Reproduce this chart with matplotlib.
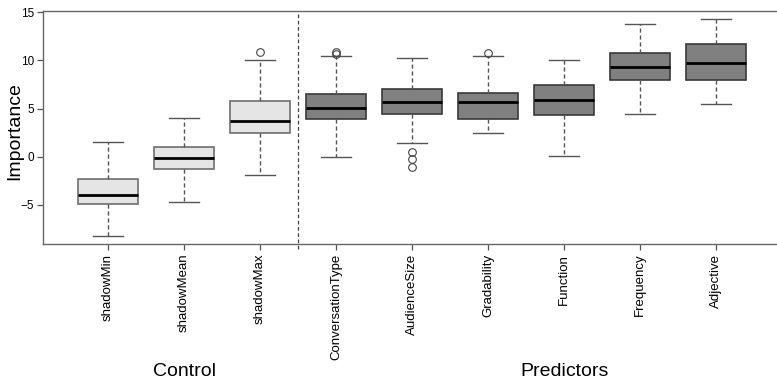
import matplotlib; matplotlib.use('Agg')
import matplotlib.pyplot as plt

# ── Data ──────────────────────────────────────────────────────────────────────
names    = ['shadowMin', 'shadowMean', 'shadowMax', 'ConversationType', 'AudienceSize',
            'Gradability', 'Function', 'Frequency', 'Adjective']
whislo   = [-8.28, -4.66, -1.93, -0.07, 1.45, 2.41, 0.03, 4.45, 5.51]
q1       = [-4.87, -1.31, 2.41, 3.89, 4.48, 3.93, 4.34, 8.00, 8.00]
medians  = [-3.93, -0.10, 3.72, 5.03, 5.69, 5.69, 5.90, 9.27, 9.72]
q3       = [-2.30, 0.96, 5.75, 6.52, 7.03, 6.62, 7.48, 10.76, 11.72]
whishi   = [1.55, 4.00, 10.03, 10.45, 10.20, 10.45, 10.03, 13.82, 14.28]
outliers = [[], [], [10.90], [10.82, 10.65], [0.48, -0.28, -1.10], [10.79], [], [], []]
groups   = ['Control'] * 3 + ['Predictors'] * 6

plt.rcParams['font.family'] = ['Liberation Sans', 'DejaVu Sans']

W, H = 777, 379
fig = plt.figure(figsize=(W / 100, H / 100), dpi=100, facecolor='white')
ax = fig.add_axes([42.5 / W, 1 - 244 / H, (W - 42.5) / W, (244 - 11) / H])

stats = [dict(label=n, whislo=lo, q1=a, med=m, q3=b, whishi=hi, fliers=f)
         for n, lo, a, m, b, hi, f in zip(names, whislo, q1, medians, q3, whishi, outliers)]
pos = list(range(1, len(names) + 1))

for g, face, edge in [('Control', '#e5e5e5', '#6e6e6e'), ('Predictors', '#808080', '#3a3a3a')]:
    idx = [i for i, gg in enumerate(groups) if gg == g]
    ax.bxp([stats[i] for i in idx], positions=[pos[i] for i in idx], widths=0.79,
           patch_artist=True, manage_ticks=False,
           boxprops=dict(facecolor=face, edgecolor=edge, lw=1.2),
           medianprops=dict(color='black', lw=2.0),
           whiskerprops=dict(color='#555555', lw=1.0, linestyle=(0, (3, 2))),
           capprops=dict(color='#555555', lw=1.0),
           capwidths=0.4,
           flierprops=dict(marker='o', markersize=5.5, markerfacecolor='none',
                           markeredgecolor='#444444', markeredgewidth=0.8))

ax.axvline(3.5, ymin=-0.02, ymax=1, color='#444444', lw=0.9, ls=(0, (3, 2)), clip_on=False)

ax.set_xlim(0.138, 9.80)
ax.set_ylim(-9.07, 15.13)
ax.set_yticks([-5, 0, 5, 10, 15])
ax.set_xticks(pos)
ax.set_xticklabels(names, rotation=90, fontsize=9.5)
ax.tick_params(axis='y', labelsize=8.5, length=4, width=0.9, color='#555555', pad=2)
ax.tick_params(axis='x', length=4, width=0.9, color='#555555', pad=3)
for s in ['left', 'top', 'bottom']:
    ax.spines[s].set_color('#666666')
    ax.spines[s].set_linewidth(1.0)
ax.spines['right'].set_visible(False)

ax.set_ylabel('Importance', fontsize=14)
ax.yaxis.set_label_coords(-19.5 / (W - 42.5), 0.485)

ax.text(2, -22.8, 'Control', ha='center', va='baseline', fontsize=14)
ax.text(7, -22.8, 'Predictors', ha='center', va='baseline', fontsize=14)

fig.savefig('out.png', dpi=100, facecolor='white')
